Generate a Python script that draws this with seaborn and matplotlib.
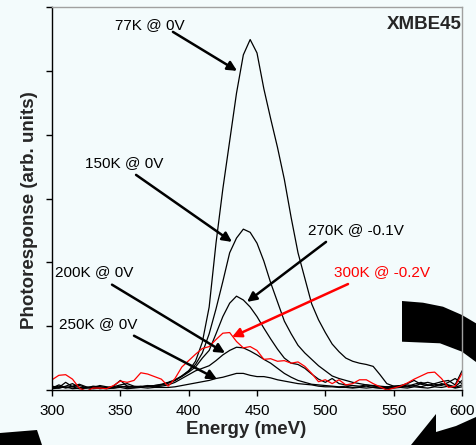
import numpy as np
import seaborn as sns
import matplotlib
matplotlib.use('Agg')
import matplotlib.pyplot as plt
from matplotlib.patches import Polygon

energy = np.arange(300, 601, 5)

k77 = [0.06, 0.04, 0.12, 0.05, 0.02, 0.03, 0.05, 0.02, 0.03, 0.06,
       0.15, 0.06, 0.05, 0.06, 0.05, 0.07, 0.08, 0.11, 0.15, 0.22,
       0.30, 0.45, 0.75, 1.30, 2.30, 3.15, 3.90, 4.65, 5.25, 5.49,
       5.28, 4.72, 4.25, 3.80, 3.30, 2.70, 2.15, 1.75, 1.35, 1.10,
       0.90, 0.72, 0.60, 0.50, 0.45, 0.42, 0.40, 0.37, 0.24, 0.10,
       0.06, 0.07, 0.10, 0.15, 0.09, 0.07, 0.10, 0.13, 0.15, 0.08,
       0.30]
k150 = [0.03, 0.08, 0.04, 0.06, 0.09, 0.05, 0.04, 0.07, 0.05, 0.04,
        0.06, 0.04, 0.05, 0.05, 0.06, 0.07, 0.09, 0.12, 0.16, 0.22,
        0.30, 0.40, 0.58, 0.88, 1.27, 1.70, 2.15, 2.38, 2.52, 2.47,
        2.30, 2.02, 1.68, 1.38, 1.08, 0.88, 0.70, 0.58, 0.48, 0.38,
        0.30, 0.22, 0.18, 0.15, 0.12, 0.10, 0.08, 0.07, 0.06, 0.05,
        0.06, 0.05, 0.08, 0.06, 0.10, 0.12, 0.09, 0.07, 0.12, 0.18,
        0.10]
k270 = [0.05, 0.03, 0.06, 0.10, 0.04, 0.03, 0.06, 0.05, 0.03, 0.05,
        0.08, 0.10, 0.06, 0.05, 0.07, 0.06, 0.08, 0.11, 0.15, 0.21,
        0.28, 0.36, 0.50, 0.62, 0.88, 1.15, 1.36, 1.47, 1.41, 1.30,
        1.15, 0.97, 0.80, 0.64, 0.50, 0.42, 0.40, 0.34, 0.25, 0.17,
        0.12, 0.18, 0.10, 0.08, 0.07, 0.06, 0.08, 0.06, 0.05, 0.04,
        0.05, 0.07, 0.06, 0.09, 0.12, 0.08, 0.06, 0.10, 0.08, 0.05,
        0.15]
k200 = [0.04, 0.06, 0.03, 0.05, 0.07, 0.04, 0.03, 0.05, 0.04, 0.03,
        0.05, 0.06, 0.04, 0.05, 0.06, 0.05, 0.06, 0.08, 0.12, 0.18,
        0.24, 0.30, 0.34, 0.38, 0.46, 0.55, 0.62, 0.67, 0.66, 0.61,
        0.55, 0.48, 0.42, 0.34, 0.26, 0.20, 0.15, 0.12, 0.09, 0.08,
        0.07, 0.06, 0.05, 0.06, 0.04, 0.05, 0.06, 0.04, 0.03, 0.05,
        0.04, 0.06, 0.05, 0.07, 0.05, 0.08, 0.06, 0.09, 0.07, 0.04,
        0.08]
k250 = [0.02, 0.03, 0.05, 0.02, 0.03, 0.04, 0.02, 0.03, 0.02, 0.03,
        0.04, 0.02, 0.03, 0.04, 0.03, 0.04, 0.04, 0.04, 0.05, 0.07,
        0.09, 0.11, 0.13, 0.15, 0.18, 0.20, 0.23, 0.26, 0.26, 0.23,
        0.21, 0.21, 0.19, 0.16, 0.14, 0.12, 0.10, 0.09, 0.08, 0.06,
        0.05, 0.05, 0.04, 0.04, 0.03, 0.04, 0.03, 0.04, 0.03, 0.02,
        0.03, 0.04, 0.03, 0.05, 0.04, 0.03, 0.05, 0.04, 0.06, 0.03,
        0.05]
k300 = [0.16, 0.23, 0.24, 0.17, 0.03, -0.02, 0.03, 0.03, 0.02, 0.07,
        0.14, 0.12, 0.15, 0.27, 0.25, 0.21, 0.17, 0.06, 0.18, 0.36,
        0.46, 0.56, 0.65, 0.68, 0.79, 0.89, 0.90, 0.76, 0.66, 0.68,
        0.62, 0.48, 0.49, 0.45, 0.46, 0.42, 0.44, 0.37, 0.26, 0.13,
        0.16, 0.10, 0.16, 0.08, 0.10, 0.16, 0.16, 0.10, 0.05, 0.00,
        0.03, 0.06, 0.11, 0.17, 0.22, 0.27, 0.28, 0.18, 0.04, 0.06,
        0.26]

sns.set_style("ticks")
plt.rcParams['font.family'] = ['Liberation Sans', 'DejaVu Sans']

bg_color = '#F3FBFC'
fig = plt.figure(figsize=(4.76, 4.45), dpi=100, facecolor=bg_color)

# black slide decorations behind the chart (pixel coords)
bg = fig.add_axes([0, 0, 1, 1], zorder=0)
bg.set_xlim(0, 476)
bg.set_ylim(445, 0)
bg.axis('off')
arc = [(402, 301), (423, 302.7), (443, 306.7), (462, 315), (476, 323.3),
       (476, 362), (462, 351.7), (440, 343.3), (402, 341.7)]
head = [(411, 445), (436, 414), (436, 432), (456, 426), (476, 417), (476, 445)]
corner = [(0, 433), (37, 430), (42, 445), (0, 445)]
for shape in [arc, head, corner]:
    bg.add_patch(Polygon(shape, closed=True, fc='black', ec='none'))

ax = fig.add_axes([52 / 476, 1 - 390 / 445, 410 / 476, 383 / 445], zorder=1)
ax.set_facecolor('none')

curves = [(k77, 'black'), (k150, 'black'), (k270, 'black'),
          (k200, 'black'), (k250, 'black'), (k300, 'red')]
for vals, col in curves:
    sns.lineplot(x=energy, y=vals, color=col, lw=0.9, ax=ax)

# labels with arrows: text pos, arrow start, arrow tip
notes = [("77K @ 0V", (371.7, 5.72), (388.5, 5.61), (435.4, 5.00), 'black'),
         ("150K @ 0V", (352.7, 3.56), (361.5, 3.37), (431.7, 2.32), 'black'),
         ("270K @ -0.1V", (522.4, 2.51), (500.5, 2.32), (442.7, 1.38), 'black'),
         ("200K @ 0V", (331.1, 1.85), (343.9, 1.65), (426.6, 0.58), 'black'),
         ("250K @ 0V", (333.7, 1.03), (360.0, 0.85), (420.7, 0.17), 'black'),
         ("300K @ -0.2V", (541.8, 1.85), (516.6, 1.66), (431.7, 0.83), 'red')]
for txt, tpos, start, tip, col in notes:
    ax.text(tpos[0], tpos[1], txt, ha='center', va='center', fontsize=11, color=col)
    ax.annotate('', xy=tip, xytext=start,
                arrowprops=dict(arrowstyle='-|>', color=col, lw=1.8,
                                mutation_scale=14, shrinkA=0, shrinkB=0))

ax.text(599.5, 5.72, "XMBE45", ha='right', va='center', fontsize=13.5, fontweight='bold')

ax.set_xlim(300, 600)
ax.set_ylim(0, 6)
ax.set_xticks(range(300, 601, 50))
ax.set_yticks(range(0, 7))
ax.set_yticklabels([])
ax.tick_params(direction='out', length=4, width=1, colors='black', labelsize=11, pad=6)

for side in ['left', 'bottom']:
    ax.spines[side].set_color('black')
    ax.spines[side].set_linewidth(1)
for side in ['top', 'right']:
    ax.spines[side].set_color('#A0A0A0')
    ax.spines[side].set_linewidth(1)

ax.set_xlabel('Energy (meV)', fontsize=13.5, fontweight='bold', va='center')
ax.xaxis.set_label_coords(0.473, -0.104)
ax.set_ylabel('Photoresponse (arb. units)', fontsize=13.5, fontweight='bold', va='center')
ax.yaxis.set_label_coords(-0.056, 0.47)

fig.savefig('out.png', dpi=100, facecolor=bg_color)
